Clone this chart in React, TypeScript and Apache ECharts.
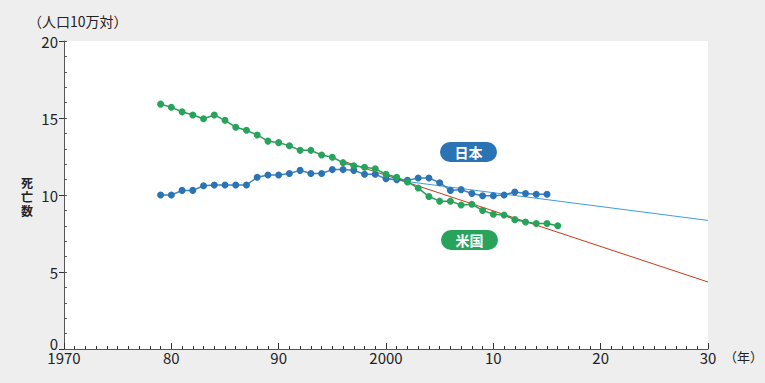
import React, { useEffect, useRef } from "react";
import * as echarts from "echarts";

const jpYears = [1979,1980,1981,1982,1983,1984,1985,1986,1987,1988,1989,1990,1991,1992,1993,1994,1995,1996,1997,1998,1999,2000,2001,2002,2003,2004,2005,2006,2007,2008,2009,2010,2011,2012,2013,2014,2015];
const jpValues = [10.0,10.0,10.3,10.3,10.6,10.65,10.65,10.65,10.65,11.15,11.3,11.3,11.4,11.6,11.4,11.4,11.65,11.65,11.6,11.35,11.35,11.05,11.0,10.95,11.1,11.1,10.8,10.3,10.35,10.1,9.95,9.95,10.0,10.2,10.1,10.05,10.05];
const usYears = [1979,1980,1981,1982,1983,1984,1985,1986,1987,1988,1989,1990,1991,1992,1993,1994,1995,1996,1997,1998,1999,2000,2001,2002,2003,2004,2005,2006,2007,2008,2009,2010,2011,2012,2013,2014,2015,2016];
const usValues = [15.9,15.7,15.4,15.2,14.95,15.2,14.85,14.4,14.2,13.9,13.5,13.4,13.2,12.9,12.9,12.6,12.45,12.1,11.9,11.8,11.7,11.35,11.15,10.85,10.45,9.9,9.6,9.6,9.35,9.4,9.0,8.75,8.7,8.4,8.25,8.15,8.15,8.0];
const jpTrendYears = [2000, 2030];
const jpTrendValues = [11.05, 8.35];
const usTrendYears = [1996, 2030];
const usTrendValues = [12.2, 4.35];
const yTicks = [0, 5, 10, 15, 20];
const seriesNames = ["日本", "米国"];
const yAxisTitleChars = ["死", "亡", "数"];

const FONT = '"Noto Sans CJK JP", "Noto Sans", sans-serif';
const BLUE = "#2a74b6";
const GREEN = "#27a35c";

const zip = (xs: number[], ys: number[]) => xs.map((x, i) => [x, ys[i]]);

export default function App() {
  const ref = useRef<HTMLDivElement>(null);
  useEffect(() => {
    if (!ref.current) return;
    const chart = echarts.init(ref.current, null, { renderer: "svg" });
    const xLabel = (v: number) => (v === 1970 || v === 2000 ? String(v) : String(v % 100).padStart(2, "0"));
    chart.setOption({
      animation: false,
      backgroundColor: "#eeeeee",
      textStyle: { fontFamily: FONT },
      grid: { left: 64, right: 57, top: 41, bottom: 34, show: true, backgroundColor: "#ffffff", borderWidth: 0 },
      xAxis: {
        type: "value",
        min: 1970,
        max: 2030,
        interval: 10,
        axisLine: { show: true, lineStyle: { color: "#555", width: 1 } },
        axisTick: { show: true, inside: true, length: 6, lineStyle: { color: "#333" } },
        minorTick: { show: true, splitNumber: 10, length: 3, lineStyle: { color: "#333" } },
        splitLine: { show: false },
        axisLabel: { color: "#222", fontSize: 15, margin: 1, formatter: xLabel, fontFamily: FONT },
      },
      yAxis: [
        {
          type: "value",
          min: 0,
          max: 20,
          interval: 5,
          axisLine: { show: true, lineStyle: { color: "#555", width: 1 } },
          axisTick: { show: true, inside: false, length: 5, lineStyle: { color: "#333" } },
          splitLine: { show: false },
          axisLabel: {
            color: "#222",
            fontSize: 15,
            margin: 6,
            fontFamily: FONT,
            formatter: (v: number) => (v === 0 ? "{z|0}" : yTicks.includes(v) ? String(v) : ""),
            rich: { z: { fontSize: 15, lineHeight: 15, fontFamily: FONT, color: "#222", padding: [0, 0, 11, 0] } },
          },
        },
        {
          type: "value",
          position: "left",
          min: 0,
          max: 20,
          interval: 1,
          axisLine: { show: false },
          axisTick: { show: true, inside: true, length: 3, lineStyle: { color: "#555" } },
          splitLine: { show: false },
          axisLabel: { show: false },
        },
      ],
      series: [
        {
          type: "line",
          data: zip(jpTrendYears, jpTrendValues),
          symbol: "none",
          lineStyle: { color: "#3d9ddc", width: 1 },
          z: 1,
        },
        {
          type: "line",
          data: zip(usTrendYears, usTrendValues),
          symbol: "none",
          lineStyle: { color: "#c83a1a", width: 1 },
          z: 1,
        },
        {
          name: seriesNames[0],
          type: "line",
          data: zip(jpYears, jpValues),
          symbol: "circle",
          symbolSize: 7,
          itemStyle: { color: BLUE },
          lineStyle: { color: "#3b82c0", width: 1.5 },
          z: 3,
        },
        {
          name: seriesNames[1],
          type: "line",
          data: zip(usYears, usValues),
          symbol: "circle",
          symbolSize: 7,
          itemStyle: { color: GREEN },
          lineStyle: { color: "#2a9e58", width: 1.5 },
          z: 3,
        },
      ],
      graphic: [
        { type: "text", left: 28, top: 14, style: { text: "（人口10万対）", font: `14px ${FONT}`, fill: "#222" } },
        ...yAxisTitleChars.map((c, i) => ({
          type: "text",
          x: 27,
          y: 182 + i * 14,
          style: { text: c, font: `bold 12px ${FONT}`, fill: "#222", lineHeight: 12, align: "center", verticalAlign: "middle" },
        })),
        { type: "text", left: 724, top: 350, style: { text: "（年）", font: `13px ${FONT}`, fill: "#222" } },
        {
          type: "rect",
          shape: { x: 440, y: 142, width: 57, height: 20, r: 10 },
          style: { fill: BLUE },
          z: 10,
        },
        {
          type: "text",
          x: 468.5,
          y: 152,
          style: { text: seriesNames[0], font: `bold 14px ${FONT}`, fill: "#fff", align: "center", verticalAlign: "middle" },
          z: 11,
        },
        {
          type: "rect",
          shape: { x: 441, y: 230, width: 57, height: 20, r: 10 },
          style: { fill: GREEN },
          z: 10,
        },
        {
          type: "text",
          x: 469.5,
          y: 240,
          style: { text: seriesNames[1], font: `bold 14px ${FONT}`, fill: "#fff", align: "center", verticalAlign: "middle" },
          z: 11,
        },
      ],
    });
    return () => chart.dispose();
  }, []);
  return <div ref={ref} style={{ position: "fixed", left: 0, top: 0, width: 765, height: 383 }} />;
}
